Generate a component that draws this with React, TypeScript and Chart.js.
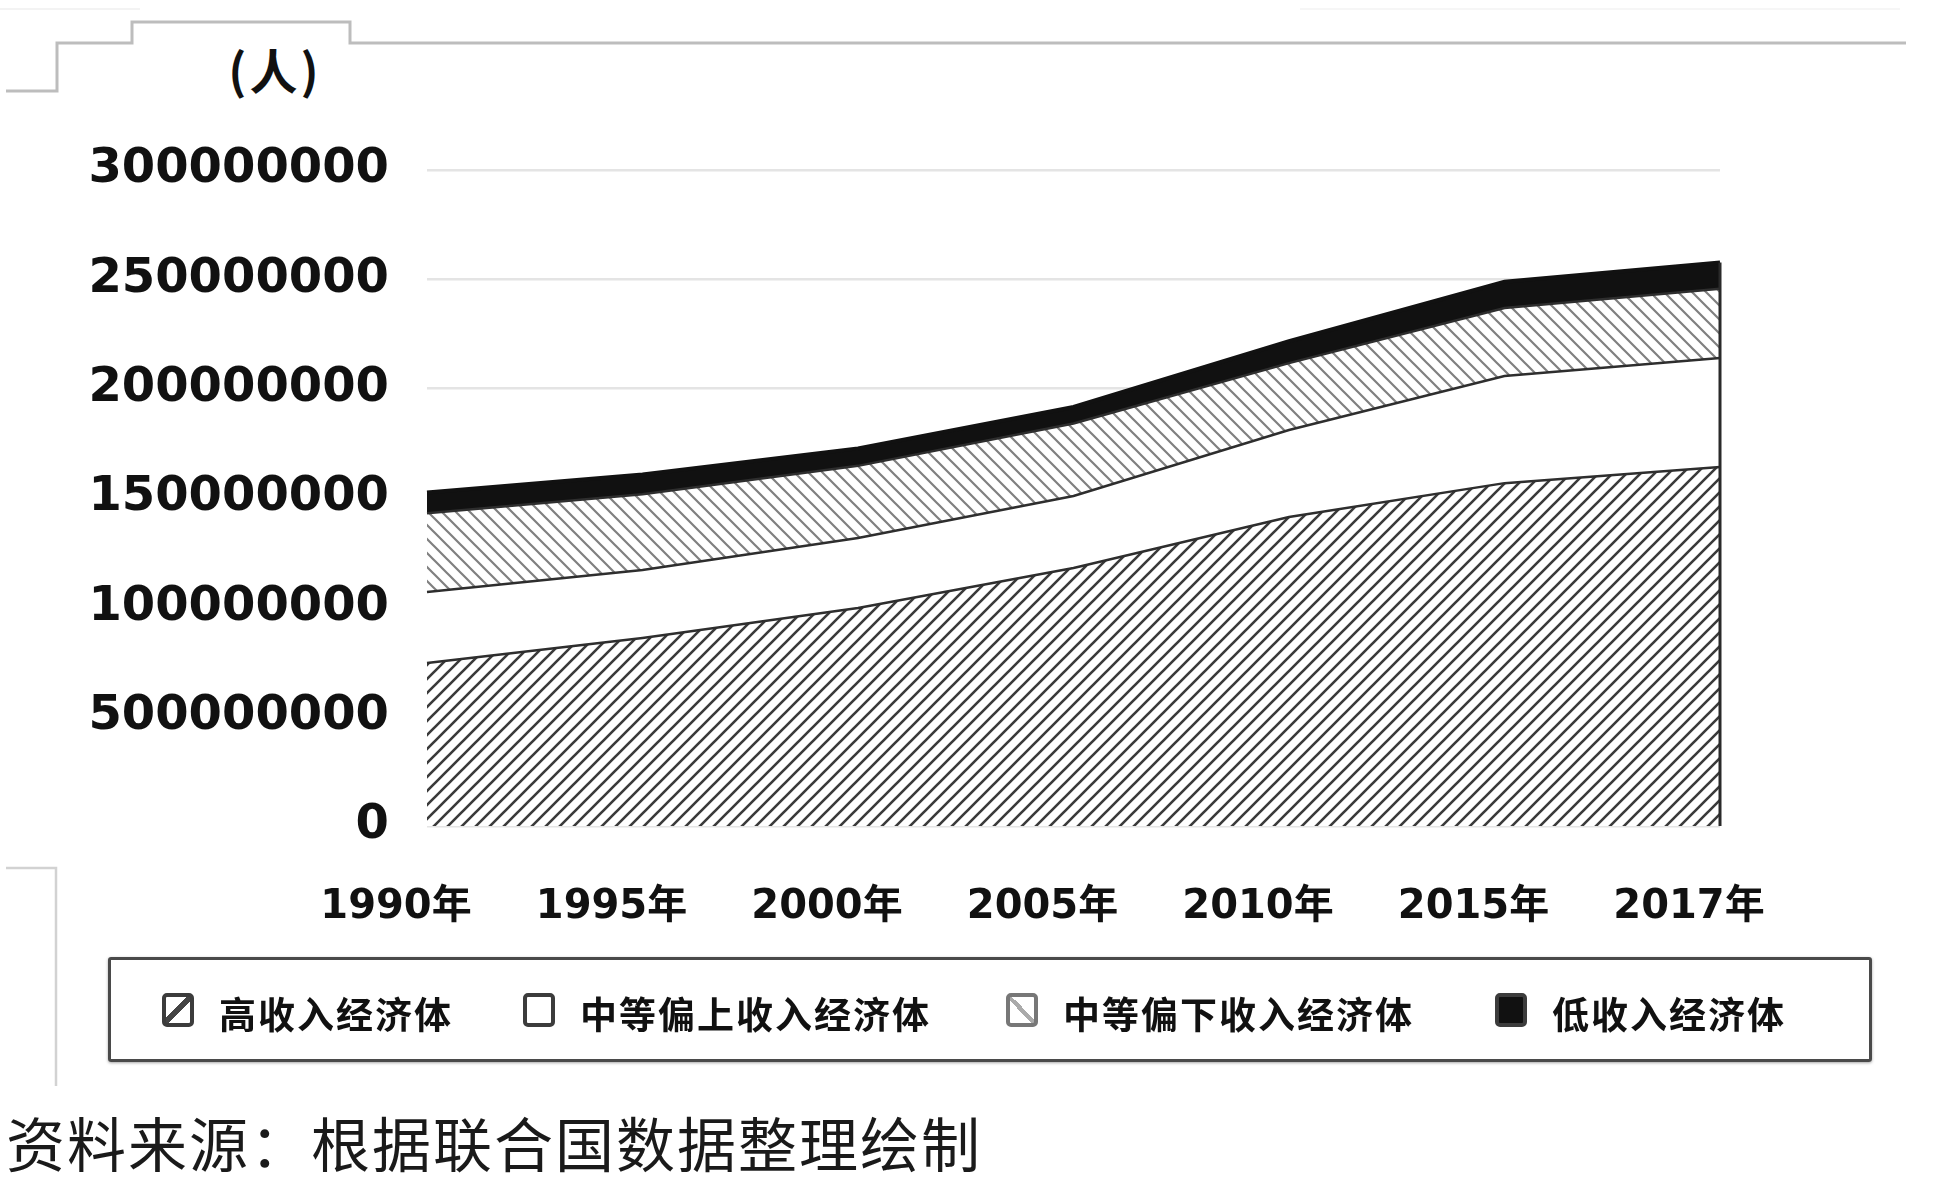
import React, { useEffect, useRef } from "react";
import { Chart, registerables } from "chart.js";

Chart.register(...registerables);

// ---- data ----
const years = ["1990年", "1995年", "2000年", "2005年", "2010年", "2015年", "2017年"];
const highIncome = [74500000, 86000000, 99700000, 118000000, 141300000, 156800000, 164200000];
const upperMiddle = [32500000, 31100000, 32000000, 32900000, 39800000, 49000000, 49800000];
const lowerMiddle = [36000000, 34600000, 33000000, 33200000, 30600000, 31100000, 31700000];
const lowIncome = [9500000, 9000000, 8000000, 7500000, 10000000, 12000000, 12000000];
const seriesNames = ["高收入经济体", "中等偏上收入经济体", "中等偏下收入经济体", "低收入经济体"];
const yTickLabels = ["0", "500000000", "100000000", "150000000", "200000000", "250000000", "300000000"];
const unitLabel = "(人)";
const sourceNote = "资料来源：根据联合国数据整理绘制";

const FONT = '"DejaVu Sans", "Noto Sans CJK SC", sans-serif';
const CJK = '"Noto Sans CJK SC", "DejaVu Sans", sans-serif';

function makeHatch(dir: "fwd" | "back", color: string, width: number, s: number) {
  const c = document.createElement("canvas");
  c.width = s;
  c.height = s;
  const g = c.getContext("2d")!;
  g.fillStyle = "#ffffff";
  g.fillRect(0, 0, s, s);
  g.strokeStyle = color;
  g.lineWidth = width;
  g.beginPath();
  if (dir === "fwd") {
    g.moveTo(0, s); g.lineTo(s, 0);
    g.moveTo(-s / 4, s / 4); g.lineTo(s / 4, -s / 4);
    g.moveTo((3 * s) / 4, (5 * s) / 4); g.lineTo((5 * s) / 4, (3 * s) / 4);
  } else {
    g.moveTo(0, 0); g.lineTo(s, s);
    g.moveTo(-s / 4, (3 * s) / 4); g.lineTo(s / 4, (5 * s) / 4);
    g.moveTo((3 * s) / 4, -s / 4); g.lineTo((5 * s) / 4, s / 4);
  }
  g.stroke();
  return g.createPattern(c, "repeat")!;
}

const rightEdgePlugin = {
  id: "rightEdge",
  afterDatasetsDraw(chart: any) {
    const { ctx, scales } = chart;
    const last = years.length - 1;
    const total = highIncome[last] + upperMiddle[last] + lowerMiddle[last] + lowIncome[last];
    const px = scales.x.getPixelForValue(last);
    ctx.save();
    ctx.strokeStyle = "#2a2a2a";
    ctx.lineWidth = 3;
    ctx.beginPath();
    ctx.moveTo(px, scales.y.getPixelForValue(total));
    ctx.lineTo(px, scales.y.getPixelForValue(0));
    ctx.stroke();
    ctx.restore();
  },
};

function LegendIcon({ kind }: { kind: number }) {
  const base: React.CSSProperties = {
    width: 24,
    height: 26,
    border: "4px solid #3c3c3c",
    borderRadius: 5,
    boxSizing: "content-box",
    flex: "0 0 auto",
  };
  let bg = "#ffffff";
  if (kind === 0)
    bg = "linear-gradient(135deg, #fff 0%, #fff 42%, #444 42%, #444 58%, #fff 58%, #fff 100%)";
  if (kind === 2)
    bg = "linear-gradient(45deg, #fff 0%, #fff 44%, #aaa 44%, #aaa 56%, #fff 56%, #fff 100%)";
  if (kind === 3) bg = "#111";
  const border = kind === 2 ? "4px solid #777" : base.border;
  return <div style={{ ...base, border, background: bg }} />;
}

const legendGaps = [70, 75, 81, 0];

export default function App() {
  const canvasRef = useRef<HTMLCanvasElement | null>(null);

  useEffect(() => {
    const canvas = canvasRef.current!;
    const ctx = canvas.getContext("2d")!;
    const hatchHigh = makeHatch("fwd", "#3a3a3a", 2.6, 14);
    const hatchLower = makeHatch("back", "#808080", 2.2, 14);
    const chart = new Chart(ctx, {
      type: "line",
      data: {
        labels: years,
        datasets: [
          {
            label: seriesNames[0],
            data: highIncome,
            fill: "origin",
            backgroundColor: hatchHigh,
            borderColor: "#2e2e2e",
            borderWidth: 2.5,
            pointRadius: 0,
            tension: 0,
          },
          {
            label: seriesNames[1],
            data: upperMiddle,
            fill: "-1",
            backgroundColor: "#ffffff",
            borderColor: "#2e2e2e",
            borderWidth: 2.5,
            pointRadius: 0,
            tension: 0,
          },
          {
            label: seriesNames[2],
            data: lowerMiddle,
            fill: "-1",
            backgroundColor: hatchLower,
            borderColor: "#2e2e2e",
            borderWidth: 2.5,
            pointRadius: 0,
            tension: 0,
          },
          {
            label: seriesNames[3],
            data: lowIncome,
            fill: "-1",
            backgroundColor: "#111111",
            borderColor: "#111111",
            borderWidth: 4,
            pointRadius: 0,
            tension: 0,
          },
        ],
      },
      options: {
        responsive: false,
        animation: false,
        devicePixelRatio: 1,
        layout: { padding: { top: 170, right: 233, left: 0, bottom: 0 } },
        plugins: {
          legend: { display: false },
          tooltip: { enabled: false },
          title: { display: false },
        },
        scales: {
          x: {
            type: "category",
            offset: false,
            grid: { display: false },
            border: { display: false },
            ticks: {
              autoSkip: false,
              maxRotation: 0,
              padding: 50,
              labelOffset: -31,
              color: "#111",
              font: { family: FONT, size: 40, weight: "bold" },
            },
            afterFit: (s: any) => {
              s.height = 134;
            },
          },
          y: {
            stacked: true,
            min: 0,
            max: 300000000,
            border: { display: false },
            grid: { color: "#e4e4e4", lineWidth: 2.5, drawTicks: false },
            ticks: {
              stepSize: 50000000,
              padding: 38,
              color: "#111",
              font: { family: FONT, size: 48, weight: "bold" },
              callback: (_v: any, i: number) => yTickLabels[i],
            },
            afterFit: (s: any) => {
              s.width = 427;
            },
          },
        },
      },
      plugins: [rightEdgePlugin],
    } as any);
    return () => chart.destroy();
  }, []);

  return (
    <div
      style={{
        position: "fixed",
        left: 0,
        top: 0,
        width: 1953,
        height: 1200,
        background: "#ffffff",
        overflow: "hidden",
      }}
    >
      <svg
        width={1953}
        height={1200}
        style={{ position: "absolute", left: 0, top: 0 }}
      >
        <polyline
          points="0,9 140,9"
          fill="none"
          stroke="#f3f3f3"
          strokeWidth={2}
        />
        <polyline
          points="1300,9 1900,9"
          fill="none"
          stroke="#f6f6f6"
          strokeWidth={2}
        />
        <polyline
          points="6,91 57,91 57,43 132,43 132,22 350,22 350,43 1906,43"
          fill="none"
          stroke="#bdbdbd"
          strokeWidth={3}
        />
        <polyline
          points="6,868 56,868 56,1086"
          fill="none"
          stroke="#d2d2d2"
          strokeWidth={2.5}
        />
      </svg>
      <div
        style={{
          position: "absolute",
          left: 175,
          top: 38,
          width: 200,
          textAlign: "center",
          fontFamily: CJK,
          fontWeight: 700,
          fontSize: 48,
          letterSpacing: 3,
          lineHeight: "60px",
          color: "#111",
        }}
      >
        {unitLabel}
      </div>
      <canvas
        ref={canvasRef}
        width={1953}
        height={960}
        style={{ position: "absolute", left: 0, top: 0, width: 1953, height: 960 }}
      />
      <div
        style={{
          position: "absolute",
          left: 108,
          top: 957,
          width: 1764,
          height: 105,
          boxSizing: "border-box",
          border: "3px solid #4a4a4a",
          borderRadius: 3,
          boxShadow: "0 1px 3px rgba(0,0,0,0.35)",
          display: "flex",
          alignItems: "center",
          paddingLeft: 51,
        }}
      >
        {seriesNames.map((n, i) => (
          <div
            key={n}
            style={{
              display: "flex",
              alignItems: "center",
              marginRight: legendGaps[i],
            }}
          >
            <LegendIcon kind={i} />
            <span
              style={{
                marginLeft: 25,
                marginTop: 6,
                fontFamily: CJK,
                fontWeight: 700,
                fontSize: 37,
                letterSpacing: 2,
                color: "#111",
                whiteSpace: "nowrap",
                lineHeight: "44px",
              }}
            >
              {n}
            </span>
          </div>
        ))}
      </div>
      <div
        style={{
          position: "absolute",
          left: 6,
          top: 1106,
          fontFamily: CJK,
          fontWeight: 400,
          fontSize: 59,
          letterSpacing: 2,
          lineHeight: "72px",
          color: "#1a1a1a",
          whiteSpace: "nowrap",
        }}
      >
        {sourceNote}
      </div>
    </div>
  );
}
